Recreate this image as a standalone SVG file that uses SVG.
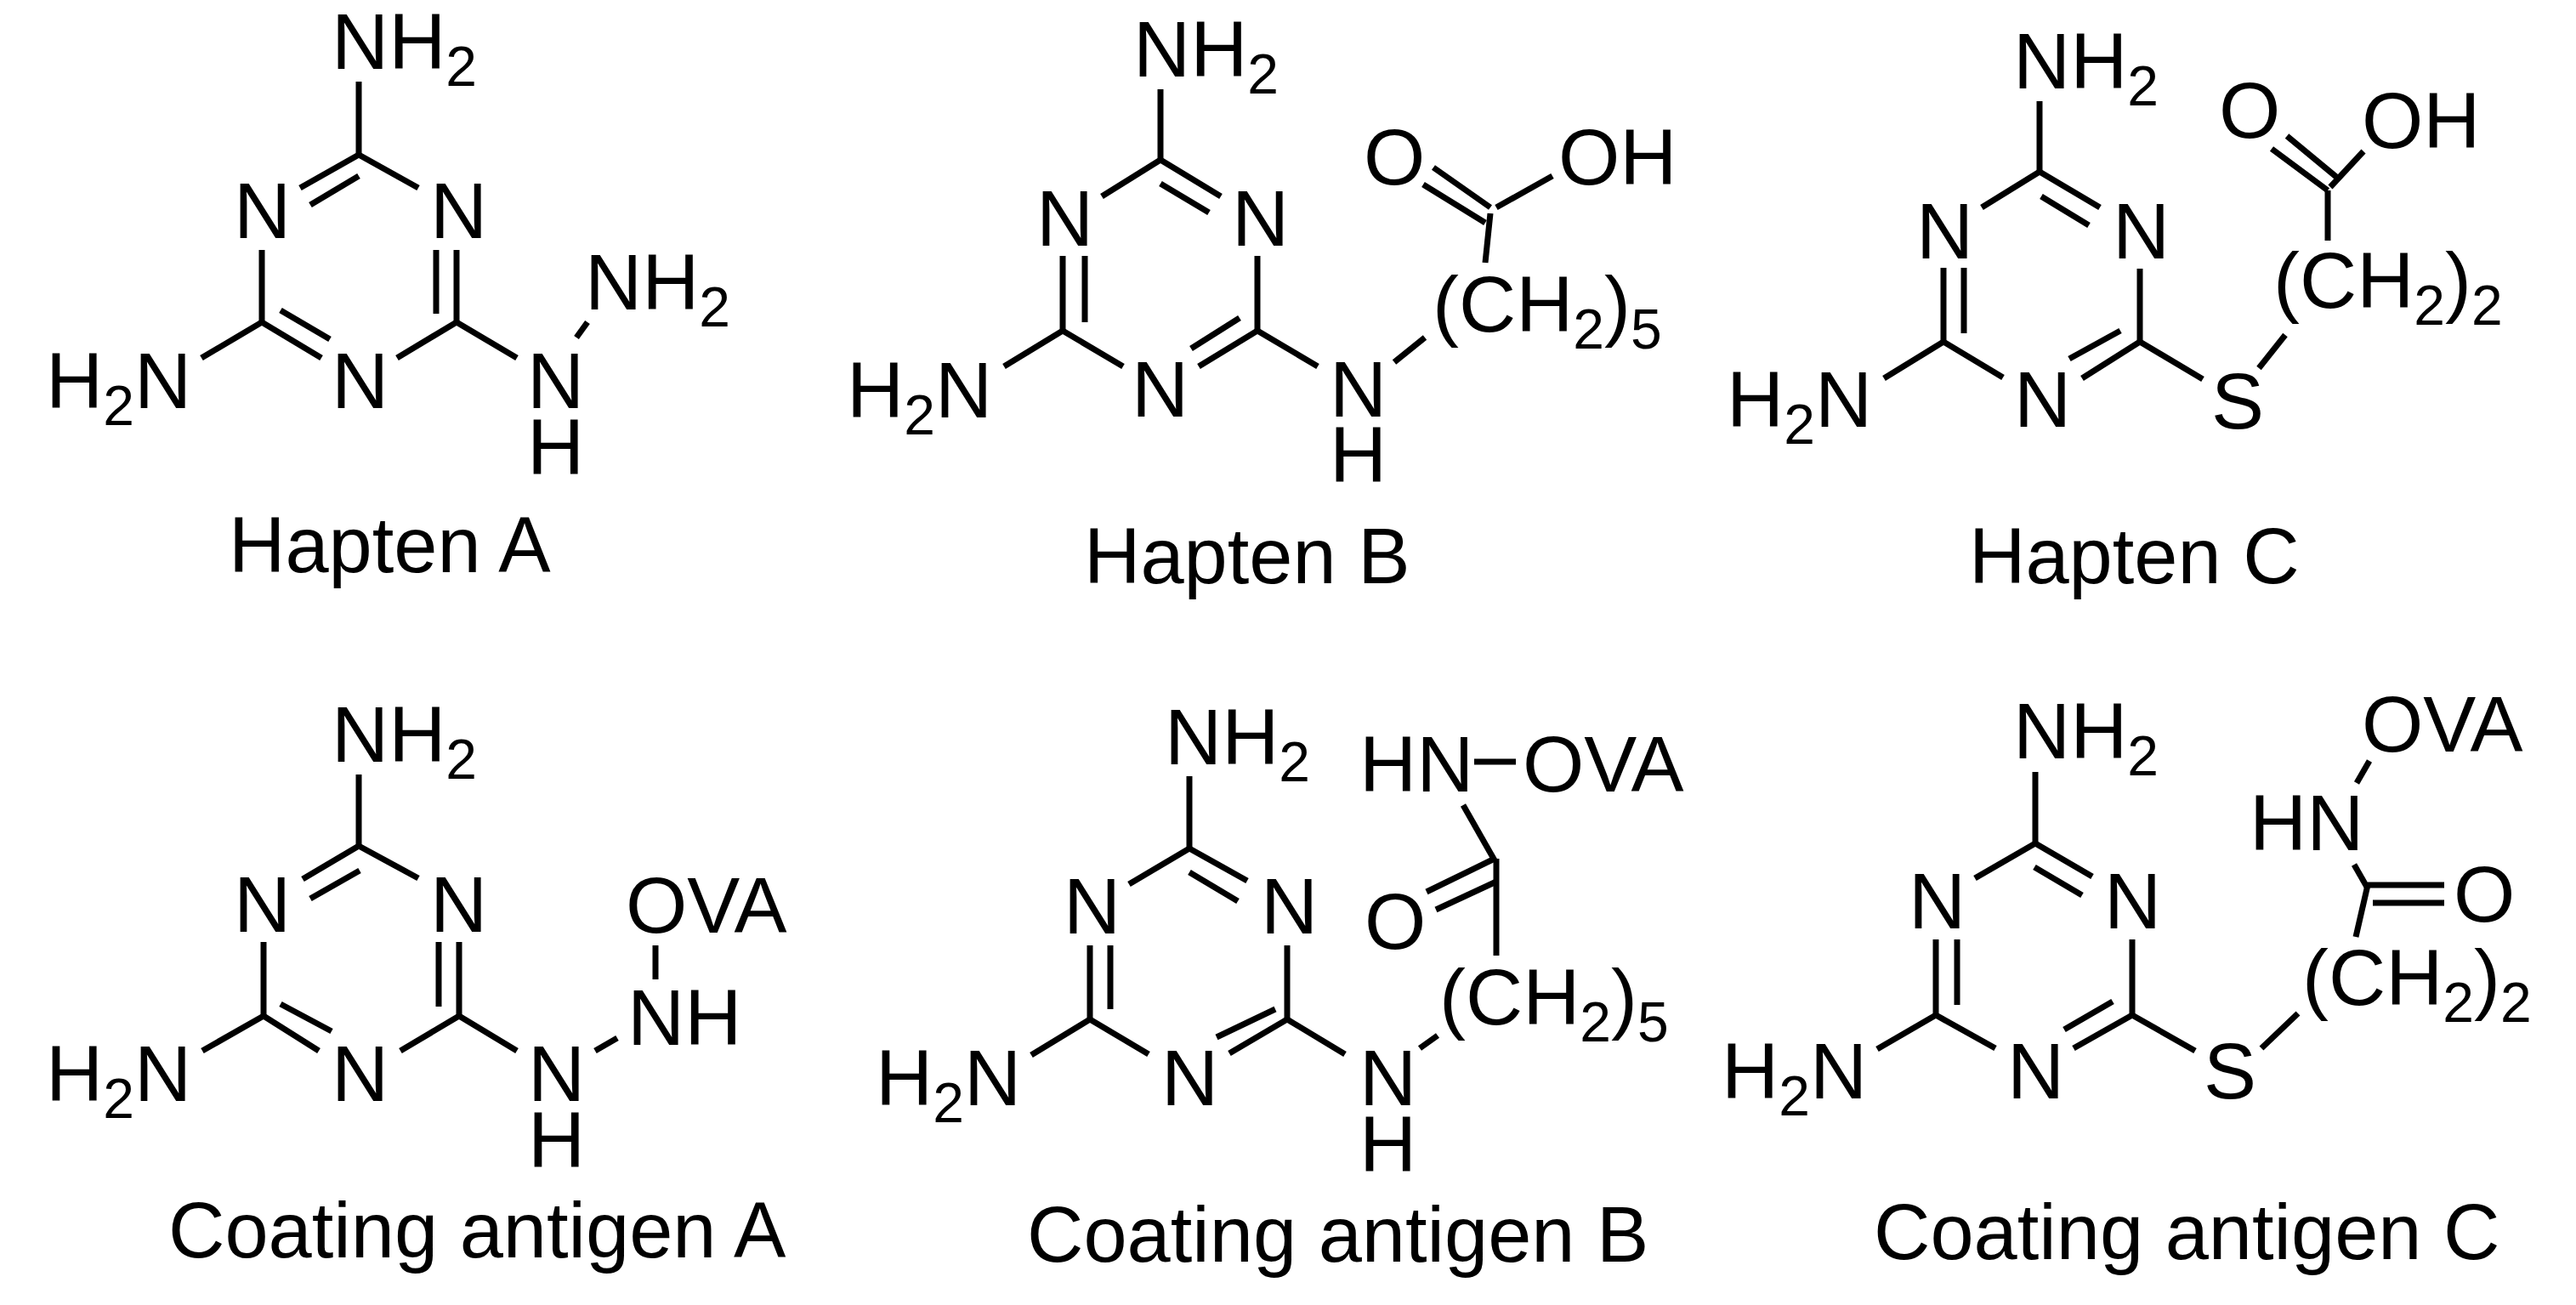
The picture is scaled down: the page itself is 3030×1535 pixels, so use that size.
<svg xmlns="http://www.w3.org/2000/svg" width="3030" height="1535" viewBox="0 0 3030 1535">
<style>
.b line{stroke:#000;stroke-width:7;stroke-linecap:butt}
text{font-family:"Liberation Sans",Arial,sans-serif;font-size:93px;fill:#000}
.s{font-size:66px}
.l{font-size:92px}
</style>
<rect width="3030" height="1535" fill="#fff"/>
<g id="haptenA">
<g class="b">
<line x1="422" y1="96" x2="422" y2="182"/><line x1="422" y1="182" x2="353" y2="221"/><line x1="422" y1="207" x2="365" y2="241"/>
<line x1="422" y1="182" x2="492" y2="221"/><line x1="308" y1="294" x2="308" y2="379"/>
<line x1="537" y1="294" x2="537" y2="379"/><line x1="513" y1="294" x2="513" y2="369"/>
<line x1="308" y1="379" x2="237" y2="421"/><line x1="308" y1="379" x2="378" y2="421"/><line x1="330" y1="365" x2="388" y2="399"/>
<line x1="537" y1="379" x2="467" y2="421"/><line x1="537" y1="379" x2="608" y2="421"/><line x1="678" y1="397" x2="691" y2="379"/>
</g>
<text x="390" y="81">NH<tspan class="s" dy="20">2</tspan></text>
<text x="275" y="280">N</text><text x="506" y="280">N</text>
<text x="54" y="480">H<tspan class="s" dy="20">2</tspan><tspan dy="-20">N</tspan></text>
<text x="390" y="480">N</text><text x="620" y="480">N</text><text x="620" y="558">H</text>
<text x="688" y="364">NH<tspan class="s" dy="20">2</tspan></text>
<text class="l" x="269" y="673">Hapten A</text>
</g>
<g id="haptenB">
<g class="b">
<line x1="1365" y1="105" x2="1365" y2="188"/><line x1="1365" y1="188" x2="1296" y2="231"/>
<line x1="1365" y1="188" x2="1436" y2="231"/><line x1="1365" y1="216" x2="1422" y2="250"/>
<line x1="1250" y1="301" x2="1250" y2="389"/><line x1="1276" y1="301" x2="1276" y2="379"/>
<line x1="1479" y1="301" x2="1479" y2="389"/>
<line x1="1250" y1="389" x2="1181" y2="431"/><line x1="1250" y1="389" x2="1321" y2="431"/>
<line x1="1479" y1="389" x2="1410" y2="431"/><line x1="1458" y1="374" x2="1401" y2="410"/>
<line x1="1479" y1="389" x2="1550" y2="431"/><line x1="1640" y1="426" x2="1676" y2="397"/>
<line x1="1747" y1="309" x2="1753" y2="251"/>
<line x1="1753" y1="244" x2="1686" y2="197"/><line x1="1747" y1="262" x2="1674" y2="217"/>
<line x1="1760" y1="244" x2="1826" y2="207"/>
</g>
<text x="1333" y="90">NH<tspan class="s" dy="20">2</tspan></text>
<text x="1219" y="289">N</text><text x="1449" y="289">N</text>
<text x="996" y="491">H<tspan class="s" dy="20">2</tspan><tspan dy="-20">N</tspan></text>
<text x="1331" y="490">N</text><text x="1564" y="490">N</text><text x="1564" y="567">H</text>
<text x="1685" y="390">(CH<tspan class="s" dy="20">2</tspan><tspan dy="-20">)</tspan><tspan class="s" dy="20">5</tspan></text>
<text x="1604" y="217">O</text><text x="1833" y="217">OH</text>
<text class="l" x="1275" y="686">Hapten B</text>
</g>
<g id="haptenC">
<g class="b">
<line x1="2399" y1="119" x2="2399" y2="202"/><line x1="2399" y1="202" x2="2331" y2="244"/>
<line x1="2399" y1="202" x2="2470" y2="244"/><line x1="2401" y1="231" x2="2457" y2="265"/>
<line x1="2286" y1="315" x2="2286" y2="402"/><line x1="2310" y1="315" x2="2310" y2="392"/>
<line x1="2517" y1="316" x2="2517" y2="402"/>
<line x1="2286" y1="402" x2="2216" y2="445"/><line x1="2286" y1="402" x2="2356" y2="444"/>
<line x1="2517" y1="402" x2="2449" y2="445"/><line x1="2494" y1="389" x2="2434" y2="422"/>
<line x1="2517" y1="402" x2="2591" y2="446"/><line x1="2657" y1="433" x2="2688" y2="394"/>
<line x1="2738" y1="283" x2="2738" y2="224"/>
<line x1="2738" y1="224" x2="2672" y2="175"/><line x1="2748" y1="208" x2="2690" y2="160"/>
<line x1="2741" y1="220" x2="2780" y2="178"/>
</g>
<text x="2368" y="104">NH<tspan class="s" dy="20">2</tspan></text>
<text x="2254" y="304">N</text><text x="2485" y="304">N</text>
<text x="2031" y="502">H<tspan class="s" dy="20">2</tspan><tspan dy="-20">N</tspan></text>
<text x="2369" y="502">N</text><text x="2601" y="504">S</text>
<text x="2674" y="362">(CH<tspan class="s" dy="20">2</tspan><tspan dy="-20">)</tspan><tspan class="s" dy="20">2</tspan></text>
<text x="2610" y="162">O</text><text x="2778" y="174">OH</text>
<text class="l" x="2316" y="686">Hapten C</text>
</g>
<g id="coatingA">
<g class="b">
<line x1="422" y1="911" x2="422" y2="995"/><line x1="422" y1="995" x2="356" y2="1034"/><line x1="423" y1="1024" x2="365" y2="1057"/>
<line x1="422" y1="995" x2="492" y2="1033"/><line x1="310" y1="1108" x2="310" y2="1195"/>
<line x1="540" y1="1108" x2="540" y2="1195"/><line x1="516" y1="1108" x2="516" y2="1184"/>
<line x1="310" y1="1195" x2="238" y2="1236"/><line x1="310" y1="1195" x2="375" y2="1236"/><line x1="330" y1="1181" x2="390" y2="1213"/>
<line x1="540" y1="1195" x2="471" y2="1236"/><line x1="540" y1="1195" x2="608" y2="1236"/>
<line x1="700" y1="1236" x2="726" y2="1221"/><line x1="771" y1="1112" x2="771" y2="1152"/>
</g>
<text x="390" y="896">NH<tspan class="s" dy="20">2</tspan></text>
<text x="275" y="1096">N</text><text x="506" y="1096">N</text>
<text x="54" y="1295">H<tspan class="s" dy="20">2</tspan><tspan dy="-20">N</tspan></text>
<text x="390" y="1295">N</text><text x="621" y="1295">N</text><text x="621" y="1373">H</text>
<text x="738" y="1229">NH</text><text x="736" y="1097">OVA</text>
<text class="l" x="198" y="1479">Coating antigen A</text>
</g>
<g id="coatingB">
<g class="b">
<line x1="1399" y1="913" x2="1399" y2="998"/><line x1="1399" y1="998" x2="1328" y2="1040"/>
<line x1="1399" y1="998" x2="1467" y2="1036"/><line x1="1399" y1="1026" x2="1456" y2="1060"/>
<line x1="1282" y1="1112" x2="1282" y2="1199"/><line x1="1306" y1="1112" x2="1306" y2="1187"/>
<line x1="1514" y1="1112" x2="1514" y2="1199"/>
<line x1="1282" y1="1199" x2="1213" y2="1241"/><line x1="1282" y1="1199" x2="1351" y2="1240"/>
<line x1="1514" y1="1199" x2="1446" y2="1239"/><line x1="1500" y1="1187" x2="1431" y2="1220"/>
<line x1="1514" y1="1199" x2="1582" y2="1240"/><line x1="1670" y1="1233" x2="1691" y2="1218"/>
<line x1="1760" y1="1124" x2="1760" y2="1010"/>
<line x1="1758" y1="1010" x2="1678" y2="1049"/><line x1="1760" y1="1037" x2="1689" y2="1070"/>
<line x1="1758" y1="1012" x2="1721" y2="947"/><line x1="1734" y1="896" x2="1783" y2="896"/>
</g>
<text x="1370" y="899">NH<tspan class="s" dy="20">2</tspan></text>
<text x="1251" y="1098">N</text><text x="1483" y="1098">N</text>
<text x="1030" y="1300">H<tspan class="s" dy="20">2</tspan><tspan dy="-20">N</tspan></text>
<text x="1366" y="1300">N</text><text x="1599" y="1300">N</text><text x="1599" y="1378">H</text>
<text x="1693" y="1205">(CH<tspan class="s" dy="20">2</tspan><tspan dy="-20">)</tspan><tspan class="s" dy="20">5</tspan></text>
<text x="1605" y="1116">O</text><text x="1599" y="931">HN</text><text x="1791" y="931">OVA</text>
<text class="l" x="1208" y="1484">Coating antigen B</text>
</g>
<g id="coatingC">
<g class="b">
<line x1="2394" y1="908" x2="2394" y2="992"/><line x1="2394" y1="992" x2="2323" y2="1033"/>
<line x1="2394" y1="992" x2="2461" y2="1031"/><line x1="2393" y1="1020" x2="2449" y2="1053"/>
<line x1="2277" y1="1105" x2="2277" y2="1194"/><line x1="2302" y1="1105" x2="2302" y2="1182"/>
<line x1="2508" y1="1105" x2="2508" y2="1194"/>
<line x1="2277" y1="1194" x2="2208" y2="1234"/><line x1="2277" y1="1194" x2="2347" y2="1233"/>
<line x1="2508" y1="1194" x2="2439" y2="1233"/><line x1="2485" y1="1178" x2="2428" y2="1211"/>
<line x1="2508" y1="1194" x2="2582" y2="1236"/><line x1="2660" y1="1233" x2="2703" y2="1192"/>
<line x1="2771" y1="1102" x2="2785" y2="1041"/>
<line x1="2785" y1="1041" x2="2875" y2="1041"/><line x1="2791" y1="1062" x2="2875" y2="1062"/>
<line x1="2785" y1="1045" x2="2769" y2="1017"/><line x1="2772" y1="921" x2="2787" y2="895"/>
</g>
<text x="2368" y="892">NH<tspan class="s" dy="20">2</tspan></text>
<text x="2245" y="1092">N</text><text x="2475" y="1092">N</text>
<text x="2025" y="1292">H<tspan class="s" dy="20">2</tspan><tspan dy="-20">N</tspan></text>
<text x="2361" y="1292">N</text><text x="2592" y="1292">S</text>
<text x="2708" y="1182">(CH<tspan class="s" dy="20">2</tspan><tspan dy="-20">)</tspan><tspan class="s" dy="20">2</tspan></text>
<text x="2886" y="1084">O</text><text x="2646" y="1000">HN</text><text x="2778" y="884">OVA</text>
<text class="l" x="2204" y="1481">Coating antigen C</text>
</g>
</svg>
